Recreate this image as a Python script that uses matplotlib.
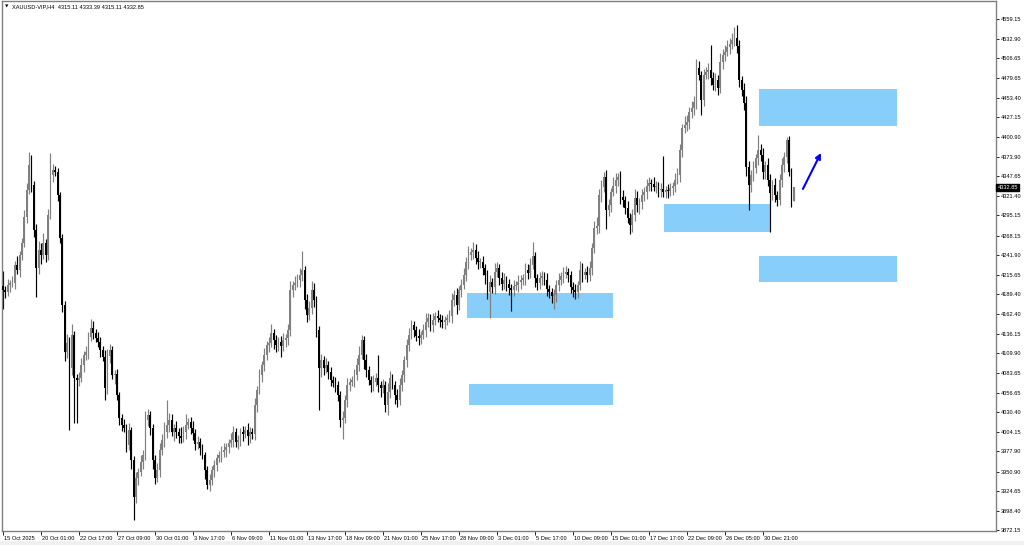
import numpy as np
import matplotlib
matplotlib.use("Agg")
import matplotlib.pyplot as plt
import matplotlib.transforms as mtransforms
from matplotlib.patches import Rectangle

# ------------------------------------------------------------
# XAUUSD H4 closes (one value per bar)
# ------------------------------------------------------------
closes = [
    4194.9, 4192.3, 4201.7, 4204.3, 4204.3, 4228.5, 4221.8, 4242.0, 4258.1, 4293.1,
    4329.3, 4362.9, 4336.1, 4275.6, 4224.5, 4248.7, 4242.0, 4258.1, 4242.0, 4295.7,
    4349.5, 4356.2, 4353.5, 4322.6, 4264.8, 4174.8, 4111.6, 4123.7, 4090.1, 4134.5,
    4076.7, 4074.0, 4076.7, 4094.1, 4107.6, 4111.6, 4131.8, 4143.9, 4137.1, 4130.4,
    4125.1, 4114.3, 4104.9, 4063.2, 4106.2, 4114.3, 4080.7, 4082.0, 4053.8, 4022.9,
    4013.5, 4009.5, 3986.6, 4006.8, 3966.5, 3916.7, 3942.3, 3950.3, 3963.8, 3973.2,
    4020.2, 4026.9, 4009.5, 3966.5, 3942.3, 3953.0, 3979.9, 3993.3, 4004.1, 4013.5,
    4020.2, 4004.1, 4009.5, 4004.1, 3998.7, 3996.0, 4004.1, 4013.5, 4017.5, 4009.5,
    4002.7, 3988.0, 3990.7, 3982.6, 3973.2, 3953.0, 3932.9, 3939.6, 3953.0, 3959.7,
    3969.1, 3973.2, 3977.2, 3979.9, 3983.9, 3989.3, 3993.3, 4004.1, 3990.7, 3993.3,
    4004.1, 4001.4, 4006.8, 3998.7, 4004.1, 4001.4, 4040.4, 4060.5, 4080.7, 4094.1,
    4107.6, 4121.0, 4123.7, 4137.1, 4127.7, 4121.0, 4125.1, 4119.7, 4127.7, 4130.4,
    4141.2, 4194.9, 4201.7, 4204.3, 4208.4, 4215.1, 4221.8, 4181.5, 4161.3, 4170.7,
    4194.9, 4181.5, 4141.2, 4090.1, 4100.9, 4090.1, 4094.1, 4084.7, 4074.0, 4069.9,
    4067.3, 4053.8, 4020.2, 4022.9, 4047.1, 4067.3, 4071.3, 4074.0, 4080.7, 4094.1,
    4107.6, 4127.7, 4100.9, 4087.4, 4074.0, 4067.3, 4071.3, 4076.7, 4067.3, 4063.2,
    4067.3, 4040.4, 4057.9, 4076.7, 4067.3, 4053.8, 4047.1, 4067.3, 4080.7, 4100.9,
    4121.0, 4134.5, 4147.9, 4141.2, 4133.1, 4130.4, 4134.5, 4141.2, 4151.9, 4157.3,
    4147.9, 4154.6, 4160.0, 4157.3, 4154.6, 4151.9, 4154.6, 4157.3, 4160.0, 4181.5,
    4188.2, 4174.8, 4194.9, 4201.7, 4215.1, 4232.6, 4242.0, 4246.0, 4248.7, 4237.9,
    4232.6, 4232.6, 4224.5, 4215.1, 4192.3, 4205.7, 4199.0, 4219.1, 4224.5, 4211.1,
    4203.0, 4208.4, 4203.0, 4197.6, 4194.9, 4200.3, 4201.7, 4205.7, 4208.4, 4211.1,
    4221.8, 4217.8, 4228.5, 4240.6, 4211.1, 4204.3, 4211.1, 4213.8, 4208.4, 4196.3,
    4192.3, 4186.9, 4188.2, 4201.7, 4208.4, 4213.8, 4216.4, 4219.1, 4215.1, 4199.0,
    4194.9, 4192.3, 4201.7, 4221.8, 4215.1, 4219.1, 4215.1, 4224.5, 4251.4, 4278.3,
    4281.0, 4322.6, 4333.4, 4346.8, 4302.5, 4309.2, 4326.7, 4334.7, 4342.8, 4346.8,
    4319.9, 4315.9, 4305.1, 4291.7, 4282.3, 4295.7, 4318.6, 4309.2, 4313.2, 4322.6,
    4326.7, 4334.7, 4338.7, 4337.4, 4333.4, 4334.7, 4329.3, 4330.7, 4326.7, 4329.3,
    4328.0, 4332.0, 4334.7, 4342.8, 4349.5, 4383.1, 4412.7, 4416.7, 4420.7, 4434.2,
    4439.5, 4447.6, 4493.3, 4483.9, 4450.3, 4483.9, 4487.9, 4490.6, 4479.9, 4470.5,
    4477.2, 4466.4, 4501.4, 4510.8, 4514.8, 4521.5, 4525.6, 4530.9, 4533.6, 4522.9,
    4477.2, 4463.7, 4446.3, 4360.3, 4336.1, 4349.5, 4358.9, 4372.3, 4383.1, 4376.4,
    4353.5, 4362.9, 4342.8, 4325.3, 4336.1, 4322.6, 4315.9, 4342.8, 4362.9, 4373.7,
    4396.5, 4353.5, 4315.11, 4332.85,
]
first_open = 4200.0

# wick lengths above / below the body, in $
wick_up = [
    20, 5, 8, 4, 10, 6, 12, 5, 7, 9,
    10, 17, 14, 6, 8, 12, 9, 14, 5, 8,
    30, 8, 6, 5, 4, 6, 5, 12, 8, 15,
    6, 5, 8, 10, 6, 8, 7, 12, 9, 6,
    8, 6, 5, 10, 9, 8, 6, 5, 7, 4,
    6, 8, 5, 10, 4, 6, 8, 5, 9, 7,
    12, 8, 6, 5, 7, 9, 10, 8, 14, 34,
    10, 8, 6, 9, 5, 12, 8, 15, 6, 7,
    9, 5, 8, 6, 5, 4, 6, 8, 5, 7,
    6, 5, 8, 9, 6, 5, 10, 8, 6, 7,
    5, 8, 6, 9, 7, 5, 10, 6, 8, 5,
    9, 6, 8, 12, 5, 7, 6, 8, 10, 6,
    8, 12, 6, 10, 8, 9, 25, 6, 8, 10,
    12, 9, 6, 5, 8, 6, 9, 5, 7, 6,
    8, 5, 6, 10, 7, 9, 6, 5, 8, 10,
    12, 7, 6, 8, 5, 6, 9, 7, 31, 6,
    8, 6, 12, 9, 6, 5, 8, 10, 7, 6,
    8, 10, 7, 6, 5, 9, 6, 8, 12, 7,
    6, 9, 5, 8, 6, 7, 5, 6, 8, 10,
    7, 9, 6, 8, 10, 7, 12, 6, 11, 8,
    9, 6, 8, 5, 7, 10, 6, 12, 8, 6,
    8, 9, 6, 7, 5, 8, 6, 10, 7, 6,
    9, 8, 10, 19, 6, 5, 8, 7, 6, 9,
    6, 5, 8, 7, 10, 6, 9, 8, 6, 5,
    7, 8, 6, 12, 9, 6, 8, 10, 7, 9,
    12, 8, 10, 7, 9, 8, 6, 12, 10, 6,
    8, 9, 6, 10, 7, 8, 12, 9, 6, 8,
    7, 9, 8, 6, 10, 7, 5, 8, 45, 6,
    8, 7, 6, 9, 10, 8, 6, 12, 9, 7,
    10, 8, 12, 9, 6, 8, 7, 10, 34, 8,
    9, 7, 12, 8, 10, 9, 8, 10, 15, 18,
    8, 6, 9, 10, 8, 7, 9, 6, 20, 8,
    9, 6, 10, 8, 7, 9, 6, 8, 10, 7,
    4, 6, 5, 0.5,
]
wick_dn = [
    25, 8, 6, 10, 5, 8, 6, 9, 7, 5,
    8, 6, 9, 10, 39, 8, 12, 6, 10, 7,
    6, 9, 5, 8, 7, 10, 12, 8, 83, 9,
    60, 58, 8, 6, 10, 7, 9, 5, 8, 6,
    7, 9, 6, 16, 8, 10, 6, 12, 7, 9,
    8, 6, 10, 7, 12, 31, 8, 10, 6, 9,
    7, 8, 10, 12, 8, 6, 9, 7, 10, 8,
    9, 6, 12, 8, 10, 7, 6, 9, 5, 8,
    10, 8, 7, 9, 6, 12, 6, 8, 7, 9,
    8, 6, 10, 7, 9, 8, 6, 10, 7, 9,
    8, 10, 6, 12, 9, 7, 8, 10, 6, 9,
    8, 7, 10, 6, 12, 9, 8, 15, 7, 10,
    9, 8, 10, 7, 6, 9, 8, 12, 10, 7,
    8, 9, 10, 56, 12, 9, 7, 10, 8, 6,
    9, 8, 10, 26, 7, 9, 8, 6, 10, 7,
    8, 6, 12, 9, 7, 10, 8, 6, 9, 12,
    7, 10, 14, 8, 6, 12, 10, 7, 8, 9,
    10, 8, 6, 9, 7, 10, 8, 6, 9, 7,
    8, 10, 7, 6, 9, 8, 10, 7, 6, 9,
    8, 12, 7, 9, 6, 8, 10, 7, 9, 8,
    10, 8, 9, 12, 10, 35, 8, 9, 7, 10,
    8, 7, 10, 9, 28, 8, 6, 9, 10, 7,
    9, 8, 7, 6, 12, 10, 8, 9, 7, 10,
    8, 9, 17, 10, 8, 7, 9, 6, 10, 8,
    9, 10, 8, 7, 9, 6, 10, 8, 9, 7,
    8, 10, 9, 7, 25, 8, 9, 6, 10, 8,
    9, 10, 8, 7, 12, 9, 8, 10, 12, 9,
    8, 10, 7, 9, 6, 8, 9, 10, 7, 8,
    9, 7, 10, 8, 6, 9, 10, 7, 8, 9,
    8, 10, 9, 7, 20, 8, 6, 9, 10, 7,
    8, 9, 7, 10, 8, 6, 9, 7, 8, 10,
    9, 8, 10, 12, 34, 9, 8, 7, 10, 8,
    9, 10, 8, 52, 9, 10, 8, 7, 9, 10,
    8, 6, 9, 0,
]

# date labels every 16 bars
date_labels = [
    "15 Oct 2025", "20 Oct 01:00", "22 Oct 17:00", "27 Oct 09:00", "30 Oct 01:00",
    "3 Nov 17:00", "6 Nov 09:00", "11 Nov 01:00", "13 Nov 17:00", "18 Nov 09:00",
    "21 Nov 01:00", "25 Nov 17:00", "28 Nov 09:00", "3 Dec 01:00", "5 Dec 17:00",
    "10 Dec 09:00", "15 Dec 01:00", "17 Dec 17:00", "22 Dec 09:00", "26 Dec 05:00",
    "30 Dec 21:00",
]
date_step = 16

price_ticks = [
    4559.15, 4532.90, 4506.65, 4479.65, 4453.40, 4427.15, 4400.90, 4373.90, 4347.65,
    4321.40, 4295.15, 4268.15, 4241.90, 4215.65, 4189.40, 4162.40, 4136.15, 4109.90,
    4083.65, 4056.65, 4030.40, 4004.15, 3977.90, 3950.90, 3924.65, 3898.40, 3872.15,
]
last_price = 4332.85
title = "XAUUSD-VIP,H4  4315.11 4333.39 4315.11 4332.85"

# zones: (bar start, bar end, price low, price high)
zones = [
    (318.3, 376.4, 4415.3, 4465.1),
    (278.3, 323.0, 4272.9, 4310.5),
    (318.3, 376.4, 4205.7, 4240.6),
    (195.4, 256.8, 4157.3, 4190.9),
    (196.2, 256.8, 4040.4, 4068.6),
]
# arrow (bar, price) -> (bar, price)
arrow_from = (336.8, 4330.7)
arrow_to = (344.4, 4379.1)

# ------------------------------------------------------------
n = len(closes)
assert len(wick_up) == n and len(wick_dn) == n, (n, len(wick_up), len(wick_dn))
c = np.array(closes)
o = np.concatenate([[first_open], c[:-1]])
top = np.maximum(o, c)
bot = np.minimum(o, c)
hi = top + np.array(wick_up)
lo = bot - np.array(wick_dn)
x = np.arange(n)
up = c >= o

bull_col = "#808080"
bear_col = "#000000"
zone_col = "#87cefa"
font = ["Liberation Sans", "DejaVu Sans"]
fs = 4.1

fig = plt.figure(figsize=(10.24, 5.45), dpi=100)
fig.patch.set_facecolor("white")
# light grey strip under the date scale
fig.add_artist(Rectangle((0, 0), 1, 4 / 545, transform=fig.transFigure,
                         facecolor="#f0f0f0", edgecolor="none"))
ax = fig.add_axes([2 / 1024, 14 / 545, 994 / 1024, 530 / 545])

for x0, x1, p0, p1 in zones:
    ax.add_patch(Rectangle((x0, p0), x1 - x0, p1 - p0, facecolor=zone_col,
                           edgecolor="none", zorder=1))

cols = np.where(up, bull_col, bear_col)
ax.vlines(x, lo, hi, colors=cols, linewidth=0.85, zorder=2)
ax.bar(x, np.maximum(top - bot, 0.8), bottom=bot, width=0.75, color=cols,
       linewidth=0, zorder=3)

ax.annotate("", xy=arrow_to, xytext=arrow_from,
            arrowprops=dict(arrowstyle="-|>", color="#0000ff", lw=1.5,
                            mutation_scale=8, shrinkA=0, shrinkB=0), zorder=5)

ax.set_xlim(-0.4, 418.1)
ax.set_ylim(4584.7 - 1.344 * 531, 4584.7 - 1.344 * 1)

ax.yaxis.tick_right()
ax.set_yticks(price_ticks)
ax.set_yticklabels([f"{p:.2f}" for p in price_ticks], fontfamily=font)
ax.tick_params(axis="y", direction="out", length=2.2, width=0.6, pad=1.2,
               labelsize=fs, colors="#000000")

xt = [i * date_step for i in range(len(date_labels))]
ax.set_xticks(xt)
ax.set_xticklabels(date_labels, ha="left", fontfamily=font)
ax.tick_params(axis="x", direction="out", length=3, width=0.6, pad=0.8,
               labelsize=fs)
offset = mtransforms.ScaledTranslation(1.2 / 100, 0, fig.dpi_scale_trans)
for lab in ax.get_xticklabels():
    lab.set_transform(lab.get_transform() + offset)

for side in ["left", "top", "right", "bottom"]:
    ax.spines[side].set_color("#808080")
    ax.spines[side].set_linewidth(1.0)

# small dropdown triangle + symbol line
ax.text(0.0035, 0.9925, "\u25bc", transform=ax.transAxes, fontsize=3.2,
        fontfamily="DejaVu Sans", va="top", ha="left", color="#000000")
ax.text(0.0105, 0.993, title, transform=ax.transAxes, fontsize=fs,
        fontfamily=font, va="top", ha="left", color="#000000")

ax.text(1.0015, last_price, f"{last_price:.2f}",
        transform=ax.get_yaxis_transform(), fontsize=fs, fontfamily=font,
        color="white", va="center", ha="left", zorder=6,
        bbox=dict(boxstyle="square,pad=0.22", facecolor="black",
                  edgecolor="black"))

fig.savefig("out.png", dpi=100, facecolor="white")
